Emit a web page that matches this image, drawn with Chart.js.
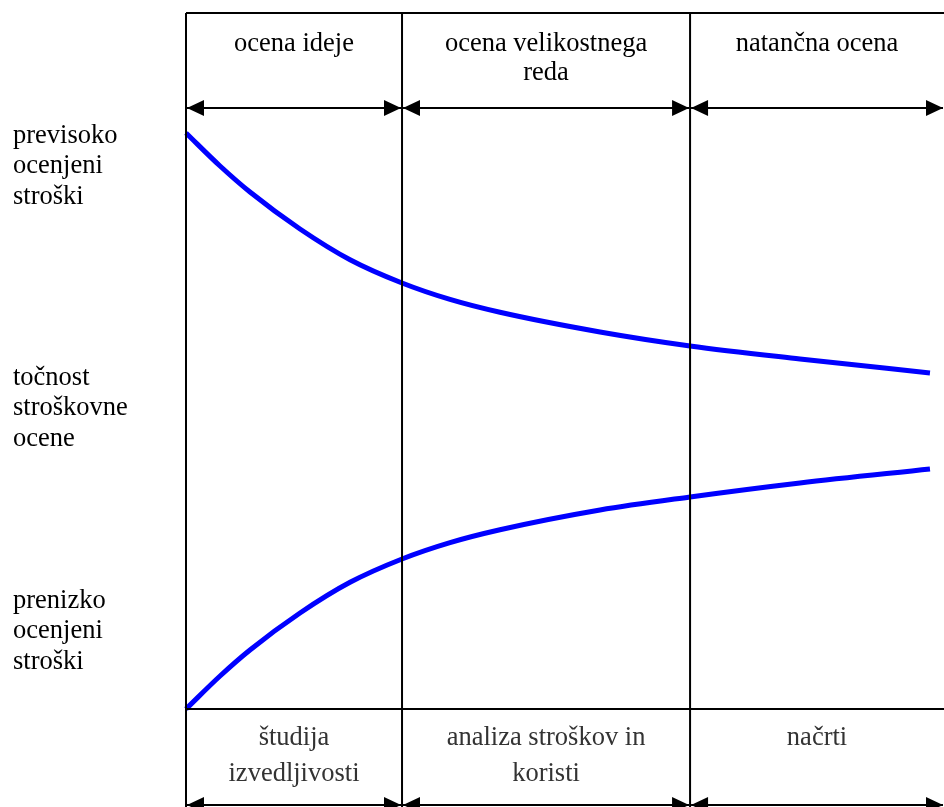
<!DOCTYPE html>
<html>
<head>
<meta charset="utf-8">
<script src="https://cdn.jsdelivr.net/npm/chart.js@4.4.1/dist/chart.umd.min.js"></script>
<style>
  html, body { margin: 0; padding: 0; background: #fff; }
  #wrap { width: 944px; height: 807px; position: relative; }
</style>
</head>
<body>
<div id="wrap"><canvas id="chart" width="944" height="807"></canvas></div>
<script>
// phase borders on the x scale (0..100)
const phaseBounds = [0, 28.5, 66.5, 100];
const topLabels = [['ocena ideje'], ['ocena velikostnega', 'reda'], ['natančna ocena']];
const bottomLabels = [['študija', 'izvedljivosti'], ['analiza stroškov in', 'koristi'], ['načrti']];
const sideLabels = [
  ['previsoko', 'ocenjeni', 'stroški'],
  ['točnost', 'stroškovne', 'ocene'],
  ['prenizko', 'ocenjeni', 'stroški']
];

// curves
const xs = [0, 4.49, 8.44, 15.04, 21.64, 28.5, 34.83, 41.42, 54.62, 66.5, 81.0, 98.15];
const upper = [82.76, 78.02, 74.28, 68.97, 64.55, 61.21, 58.85, 57.0, 54.17, 52.16, 50.29, 48.28];
const lower = [0, 4.74, 8.48, 13.79, 18.2, 21.55, 23.9, 25.75, 28.59, 30.46, 32.47, 34.48];

const pts = (ys) => xs.map((x, i) => ({ x: x, y: ys[i] }));

const FONT = '26.5px "Liberation Serif", "Times New Roman", serif';

function arrowHead(ctx, tipX, y, dir) {
  ctx.beginPath();
  ctx.moveTo(tipX, y);
  ctx.lineTo(tipX + dir * 17, y - 8);
  ctx.lineTo(tipX + dir * 17, y + 8);
  ctx.closePath();
  ctx.fill();
}

function arrowRow(ctx, xPix, y) {
  for (let i = 0; i < xPix.length - 1; i++) {
    const a = xPix[i] + 1, b = xPix[i + 1] - 1;
    ctx.beginPath();
    ctx.moveTo(a, y);
    ctx.lineTo(b, y);
    ctx.stroke();
    arrowHead(ctx, a, y, 1);
    arrowHead(ctx, b, y, -1);
  }
}

const framePlugin = {
  id: 'frame',
  afterDatasetsDraw: (chart) => {
    const { ctx, chartArea, scales } = chart;
    const xPix = phaseBounds.map(v => scales.x.getPixelForValue(v));
    const top = chartArea.top, bottom = chartArea.bottom;
    ctx.save();
    ctx.strokeStyle = '#000';
    ctx.fillStyle = '#000';
    ctx.lineWidth = 2;
    // frame
    ctx.beginPath();
    ctx.moveTo(xPix[0], top);
    ctx.lineTo(chart.width, top);
    ctx.moveTo(xPix[0], bottom);
    ctx.lineTo(chart.width, bottom);
    for (let i = 0; i < 3; i++) {
      ctx.moveTo(xPix[i], top);
      ctx.lineTo(xPix[i], chart.height);
    }
    ctx.stroke();
    // arrows
    arrowRow(ctx, xPix, top + 95);
    arrowRow(ctx, xPix, bottom + 96);

    ctx.font = FONT;
    ctx.textBaseline = 'middle';
    ctx.textAlign = 'center';
    for (let i = 0; i < 3; i++) {
      const cx = (xPix[i] + Math.min(xPix[i + 1], chart.width)) / 2;
      ctx.fillStyle = '#000';
      topLabels[i].forEach((t, j) => ctx.fillText(t, cx, top + 31 + j * 29));
      ctx.fillStyle = '#333';
      bottomLabels[i].forEach((t, j) => ctx.fillText(t, cx, bottom + 29 + j * 36));
    }
    ctx.fillStyle = '#000';
    ctx.textAlign = 'left';
    const sideTop = [136, 378, 601];
    sideLabels.forEach((lines, i) => {
      lines.forEach((t, j) => ctx.fillText(t, 13, sideTop[i] + j * 30.5));
    });
    ctx.restore();
  }
};

new Chart(document.getElementById('chart'), {
  type: 'line',
  data: {
    datasets: [
      { data: pts(upper), borderColor: '#0000ff', borderWidth: 5, pointRadius: 0, cubicInterpolationMode: 'monotone', clip: false },
      { data: pts(lower), borderColor: '#0000ff', borderWidth: 5, pointRadius: 0, cubicInterpolationMode: 'monotone', clip: false }
    ]
  },
  options: {
    responsive: false,
    animation: false,
    layout: { padding: { left: 186, top: 13, right: 0, bottom: 98 } },
    scales: {
      x: { type: 'linear', min: 0, max: 100, display: false },
      y: { min: 0, max: 100, display: false }
    },
    plugins: { legend: { display: false }, tooltip: { enabled: false } }
  },
  plugins: [framePlugin]
});
</script>
</body>
</html>
